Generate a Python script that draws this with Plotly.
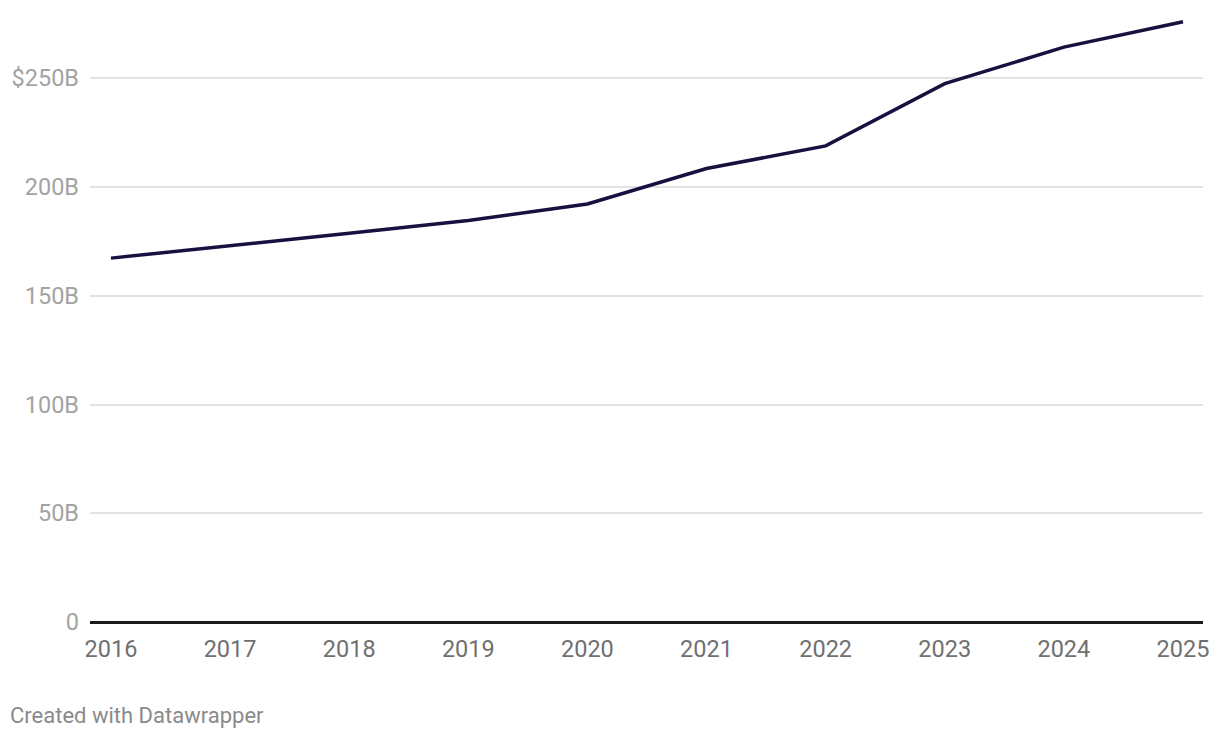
import plotly.graph_objects as go

years = [2016, 2017, 2018, 2019, 2020, 2021, 2022, 2023, 2024, 2025]
values = [167.3, 172.8, 178.7, 184.6, 192.2, 208.5, 218.9, 247.5, 264.3, 276.0]

y_tickvals = [0, 50, 100, 150, 200, 250]
y_ticktext = ["0", "50B", "100B", "150B", "200B", "$250B"]
x_ticktext = [str(y) for y in years]

# page body has an 8px margin; compensate so the plot lands where the reference has it
W, H = 1212, 722
L, R, T, B = 82, 17, 5, 108
plot_w = W - L - R
plot_h = H - T - B

fig = go.Figure()
fig.add_trace(go.Scatter(
    x=years, y=values, mode="lines",
    line=dict(color="#15123f", width=3.5),
    hoverinfo="skip", showlegend=False,
))

fig.update_layout(
    width=W, height=H,
    margin=dict(l=L, r=R, t=T, b=B),
    paper_bgcolor="white", plot_bgcolor="white",
    font=dict(family="Roboto", size=22),
    xaxis=dict(
        range=[2015.824, 2025.168],
        tickvals=years, ticktext=x_ticktext,
        showgrid=False, zeroline=False, showline=False,
        ticks="", tickfont=dict(color="#707070", size=23.5),
        ticklabelstandoff=10,
        fixedrange=True,
    ),
    yaxis=dict(
        range=[0, 280],
        tickvals=y_tickvals, ticktext=y_ticktext,
        showgrid=True, gridcolor="#e3e3e3", gridwidth=1.5,
        zeroline=True, zerolinecolor="#1a1a1a", zerolinewidth=2.5,
        showline=False, ticks="",
        tickfont=dict(color="#a3a3a3", size=23.5),
        ticklabelstandoff=10,
        fixedrange=True,
    ),
    annotations=[dict(
        text="Created with Datawrapper",
        xref="paper", yref="paper",
        x=-L/plot_w, y=-(707 - (T + plot_h)) / plot_h,
        xanchor="left", yanchor="middle",
        showarrow=False, font=dict(family="Roboto", size=22, color="#8a8a8a"),
    )],
)

fig.write_html("out.html")
